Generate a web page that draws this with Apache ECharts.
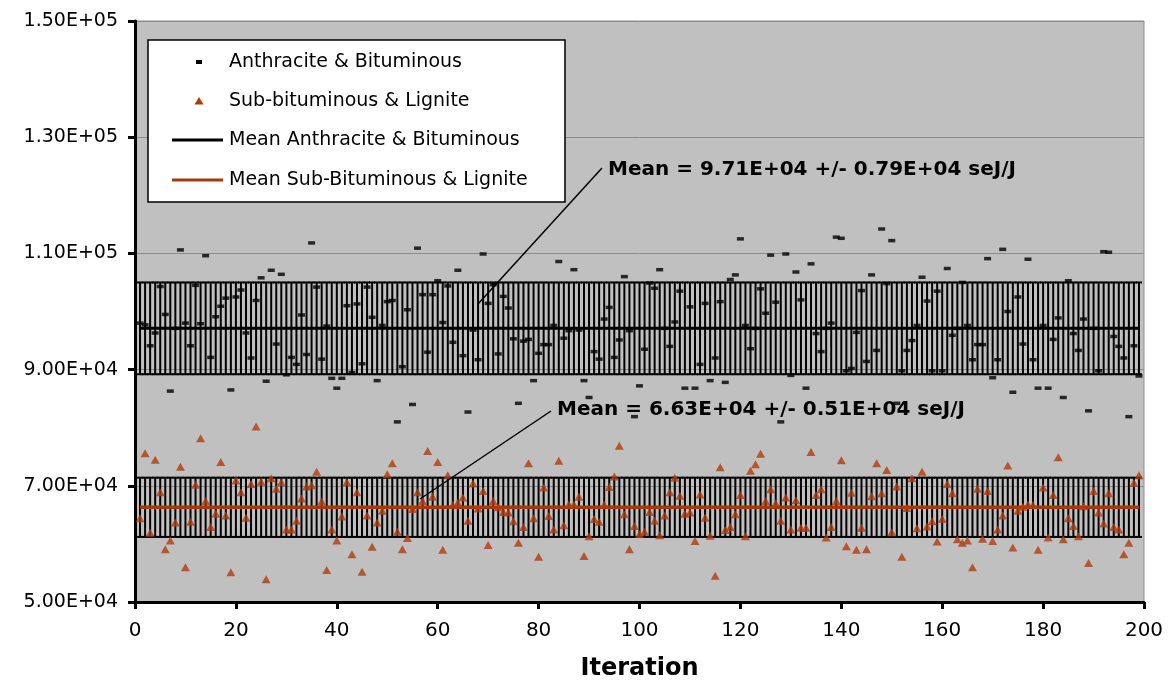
<!DOCTYPE html>
<html>
<head>
<meta charset="utf-8">
<script src="https://cdn.jsdelivr.net/npm/echarts@6/dist/echarts.min.js"></script>
<style>
html,body{margin:0;padding:0;background:#fff;}
#chart{width:1168px;height:682px;}
</style>
</head>
<body>
<div id="chart"></div>
<script>
// ---- data ----
var anthraciteBituminous = [
98000,97700,94100,96300,104300,99500,86300,97100,110600,98000,
94100,104500,97900,109600,92100,99100,100900,102300,86500,102500,
103700,96300,92000,101900,105800,88000,107100,94400,106400,89100,
92100,90900,99400,92600,111800,104200,91800,97500,88500,86800,
88500,101000,89500,101300,91000,104200,99000,88100,97600,101700,
101900,81000,90500,100300,84000,110900,102900,93000,102900,105300,
98100,104400,94700,107100,92400,82700,96800,91700,109900,101400,
104600,92700,102600,100600,95300,84200,94900,95200,88100,92800,
94300,94300,97600,108600,95400,96700,107200,96800,88100,85200,
93100,91800,98700,100700,92100,95100,106000,96700,81900,87200,
93500,104900,104000,107200,97100,94000,98200,103500,86800,100800,
86800,90900,101400,88100,92000,101700,87800,105500,106300,112500,
97600,93600,97100,103900,99700,109700,101600,81000,109900,89000,
106800,102000,86800,108200,96200,93100,97100,98000,112800,112600,
89800,90200,96400,103600,91400,106300,93300,114200,104800,112200,
84200,89800,93300,95000,97600,105900,101800,89800,103500,89800,
107400,95900,97100,105000,97600,91700,94300,94300,109100,88600,
91700,110700,100000,86100,102500,94400,109000,91700,86800,97600,
86800,95200,98900,85200,105300,96200,93300,98700,82900,97100,
89800,110300,110200,95700,94000,92000,81900,94100,88900
];
var subbituminousLignite = [
64400,75600,61900,74500,68900,59100,60600,63700,73300,56000,
63800,70200,78200,67400,62900,65200,74100,64900,55100,70900,
68900,64500,70300,80200,70700,53900,71300,69500,70600,62500,
62500,64000,67800,69900,70100,72400,67300,55500,62500,60600,
64700,70600,58200,68900,55200,64900,59500,63700,65700,72000,
73900,62100,59100,61000,66000,68900,67400,76000,68100,74100,
59000,71800,66700,67100,68000,64000,70400,66100,69100,59800,
67400,66300,65500,65400,63900,60200,62900,73900,64400,57800,
69700,64800,62500,74300,63200,66800,66800,68100,57900,61300,
64300,63800,66800,69800,71600,76900,65100,59100,63100,61700,
62100,65500,64000,61500,64900,68900,71400,68300,65200,65400,
60500,68500,64500,61400,54500,73200,62400,62900,65100,68400,
61300,72600,73700,75500,67400,69400,67000,64000,68000,62500,
67500,62800,62800,75800,68400,69400,61100,62900,67400,74400,
59600,68800,59000,62800,59100,68200,73900,68700,72700,62000,
69900,57800,66200,71300,62700,72400,63000,63900,60400,64300,
70300,68700,60800,60200,60600,56000,69500,60900,69100,60500,
62500,64900,73500,59400,65700,66400,66800,66700,59000,69700,
61100,68400,74900,60800,64400,63100,61300,66500,56700,69100,
65400,63500,68700,62900,62500,58200,60200,70500,71800
];
var meanAB = 97100, errAB = 7900;
var meanSL = 66300, errSL = 5100;
var yTicks = [50000, 70000, 90000, 110000, 130000, 150000];
var yTickLabels = ['5.00E+04', '7.00E+04', '9.00E+04', '1.10E+05', '1.30E+05', '1.50E+05'];
var legendNames = ['Anthracite & Bituminous', 'Sub-bituminous & Lignite', 'Mean Anthracite & Bituminous', 'Mean Sub-Bituminous & Lignite'];
var annotAB = 'Mean = 9.71E+04 +/- 0.79E+04 seJ/J';
var annotSL = 'Mean = 6.63E+04 +/- 0.51E+04 seJ/J';

// ---- build series data ----
var abPts = anthraciteBituminous.map(function (v, i) { return [i + 1, v]; });
var slPts = subbituminousLignite.map(function (v, i) { return [i + 1, v]; });
var bandAB = anthraciteBituminous.map(function (v, i) { return [i + 1, meanAB - errAB, meanAB + errAB]; });
var bandSL = subbituminousLignite.map(function (v, i) { return [i + 1, meanSL - errSL, meanSL + errSL]; });
var meanABLine = anthraciteBituminous.map(function (v, i) { return [i + 1, meanAB]; });
var meanSLLine = subbituminousLignite.map(function (v, i) { return [i + 1, meanSL]; });

var BROWN = '#b03c0c';
var BROWN_LINE = '#a8380c';
var FONT = 'DejaVu Sans';

function errRender(params, api) {
  var x = api.value(0), lo = api.value(1), hi = api.value(2);
  var pHi = api.coord([x, hi]), pLo = api.coord([x, lo]);
  var half = 3;
  var st = { stroke: '#000', lineWidth: 2 };
  return {
    type: 'group',
    children: [
      { type: 'line', shape: { x1: pHi[0], y1: pHi[1], x2: pLo[0], y2: pLo[1] }, style: st },
      { type: 'line', shape: { x1: pHi[0] - half, y1: pHi[1], x2: pHi[0] + half, y2: pHi[1] }, style: st },
      { type: 'line', shape: { x1: pLo[0] - half, y1: pLo[1], x2: pLo[0] + half, y2: pLo[1] }, style: st }
    ]
  };
}

var chart = echarts.init(document.getElementById('chart'), null, { renderer: 'canvas' });

var legendX = 148, legendY = 40;
var rowsY = [62, 101, 140, 180];
var graphics = [
  { type: 'rect', z: 100, shape: { x: legendX, y: legendY, width: 417, height: 162 }, style: { fill: '#fff', stroke: '#000', lineWidth: 1.5 } },
  { type: 'rect', z: 101, shape: { x: 196, y: rowsY[0] - 2, width: 6, height: 4 }, style: { fill: '#000' } },
  { type: 'polygon', z: 101, shape: { points: [[199, rowsY[1] - 4], [203.5, rowsY[1] + 3.5], [194.5, rowsY[1] + 3.5]] }, style: { fill: BROWN } },
  { type: 'line', z: 101, shape: { x1: 172, y1: rowsY[2], x2: 223, y2: rowsY[2] }, style: { stroke: '#000', lineWidth: 3 } },
  { type: 'line', z: 101, shape: { x1: 172, y1: rowsY[3], x2: 223, y2: rowsY[3] }, style: { stroke: BROWN_LINE, lineWidth: 3 } },
  { type: 'line', z: 100, shape: { x1: 602, y1: 168, x2: 478, y2: 304 }, style: { stroke: '#000', lineWidth: 1.5 } },
  { type: 'line', z: 100, shape: { x1: 551, y1: 411, x2: 420, y2: 499 }, style: { stroke: '#000', lineWidth: 1.5 } },
  { type: 'text', z: 100, x: 608, y: 170, style: { text: annotAB, fontFamily: FONT, fontWeight: 'bold', fontSize: 20, fill: '#000', verticalAlign: 'middle', align: 'left' } },
  { type: 'text', z: 100, x: 557, y: 410, style: { text: annotSL, fontFamily: FONT, fontWeight: 'bold', fontSize: 20, fill: '#000', verticalAlign: 'middle', align: 'left' } }
];
for (var k = 0; k < 4; k++) {
  graphics.push({ type: 'text', z: 101, x: 229, y: rowsY[k], style: { text: legendNames[k], fontFamily: FONT, fontSize: 19, fill: '#000', verticalAlign: 'middle', align: 'left' } });
}

var option = {
  animation: false,
  backgroundColor: '#fff',
  textStyle: { fontFamily: FONT },
  grid: { left: 135, right: 24, top: 21, bottom: 80, show: true, backgroundColor: '#c0c0c0', borderColor: '#8c8c8c', borderWidth: 1, containLabel: false, outerBoundsMode: 'none' },
  xAxis: {
    type: 'value', min: 0, max: 200, interval: 20,
    name: 'Iteration', nameLocation: 'middle', nameGap: 55,
    nameTextStyle: { fontFamily: FONT, fontWeight: 'bold', fontSize: 24, color: '#000' },
    axisLine: { show: true, onZero: false, lineStyle: { color: '#000', width: 3 } },
    axisTick: { show: true, length: 7, lineStyle: { color: '#000', width: 3 } },
    axisLabel: { fontFamily: FONT, fontSize: 20, color: '#000', margin: 19 },
    splitLine: { show: false }
  },
  yAxis: {
    type: 'value', min: 50000, max: 150000, interval: 20000,
    axisLine: { show: true, onZero: false, lineStyle: { color: '#000', width: 3 } },
    axisTick: { show: true, length: 7, lineStyle: { color: '#000', width: 3 } },
    axisLabel: {
      fontFamily: FONT, fontSize: 19, color: '#000', margin: 17,
      formatter: function (v) { var idx = yTicks.indexOf(v); return idx >= 0 ? yTickLabels[idx] : ''; }
    },
    splitLine: { show: true, lineStyle: { color: '#8c8c8c', width: 1 } }
  },
  graphic: graphics,
  series: [
    { type: 'custom', name: 'bandAB', data: bandAB, renderItem: errRender, z: 2, silent: true, encode: { x: 0, y: [1, 2] } },
    { type: 'custom', name: 'bandSL', data: bandSL, renderItem: errRender, z: 2, silent: true, encode: { x: 0, y: [1, 2] } },
    { type: 'line', name: legendNames[2], data: meanABLine, showSymbol: false, symbol: 'none', lineStyle: { color: '#000', width: 3 }, z: 3 },
    { type: 'line', name: legendNames[3], data: meanSLLine, showSymbol: false, symbol: 'none', lineStyle: { color: BROWN_LINE, width: 3.5 }, z: 3 },
    { type: 'scatter', name: legendNames[0], data: abPts, symbol: 'rect', symbolSize: [7, 3.5], itemStyle: { color: '#000' }, z: 4 },
    { type: 'scatter', name: legendNames[1], data: slPts, symbol: 'triangle', symbolSize: [9, 8], itemStyle: { color: BROWN }, z: 4 }
  ]
};
chart.setOption(option);
</script>
</body>
</html>
